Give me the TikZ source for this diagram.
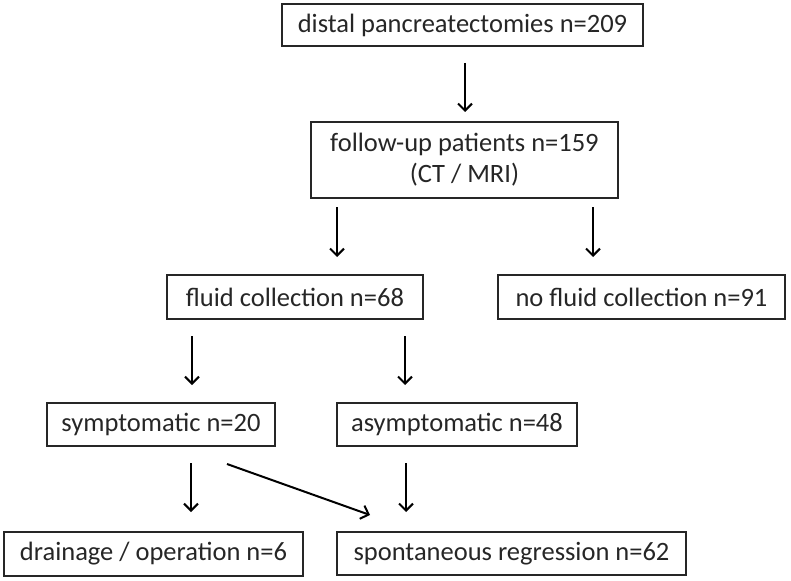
\documentclass[tikz,border=0pt]{standalone}
\usepackage{fontspec}
\setmainfont{Carlito}
\usetikzlibrary{arrows.meta}
\begin{document}
\begin{tikzpicture}[x=1pt,y=-1pt,
  box/.style={draw=black!85,line width=1.3pt,inner sep=0pt,align=center,
    font=\fontsize{26.5}{31}\selectfont,text=black!85},
  arr/.style={line width=2pt,-{Straight Barb[length=7pt,width=14pt,line width=2pt]}}]
\useasboundingbox (0,0) rectangle (791,580);
\node[box,minimum width=361pt,minimum height=42pt] (b1) at (462.5,25) {distal pancreatectomies n=209};
\node[box,minimum width=307pt,minimum height=76pt] (b2) at (464.5,160) {follow-up patients n=159\\(CT / MRI)};
\node[box,minimum width=256pt,minimum height=44pt] (b3) at (295,297) {fluid collection n=68};
\node[box,minimum width=287pt,minimum height=44pt] (b4) at (641.5,297) {no fluid collection n=91};
\node[box,minimum width=228pt,minimum height=43pt] (b5) at (161,424.5) {symptomatic n=20};
\node[box,minimum width=240pt,minimum height=43pt] (b6) at (457,424.5) {asymptomatic n=48};
\node[box,minimum width=299pt,minimum height=44pt] (b7) at (153.5,554) {drainage / operation n=6};
\node[box,minimum width=349pt,minimum height=43pt] (b8) at (511.5,553.5) {spontaneous regression n=62};
\coordinate (a1s) at (465,63);  \coordinate (a1e) at (465,112);
\coordinate (a2s) at (337,207); \coordinate (a2e) at (337,257);
\coordinate (a3s) at (593,207); \coordinate (a3e) at (593,257);
\coordinate (a4s) at (192,336); \coordinate (a4e) at (192,385);
\coordinate (a5s) at (405,336); \coordinate (a5e) at (405,385);
\coordinate (a6s) at (191,463); \coordinate (a6e) at (191,512);
\coordinate (a7s) at (406,463); \coordinate (a7e) at (406,512);
\coordinate (a8s) at (227,464); \coordinate (a8e) at (370,515);
\draw[arr] (a1s) -- (a1e);
\draw[arr] (a2s) -- (a2e);
\draw[arr] (a3s) -- (a3e);
\draw[arr] (a4s) -- (a4e);
\draw[arr] (a5s) -- (a5e);
\draw[arr] (a6s) -- (a6e);
\draw[arr] (a7s) -- (a7e);
\draw[arr] (a8s) -- (a8e);
\end{tikzpicture}
\end{document}
